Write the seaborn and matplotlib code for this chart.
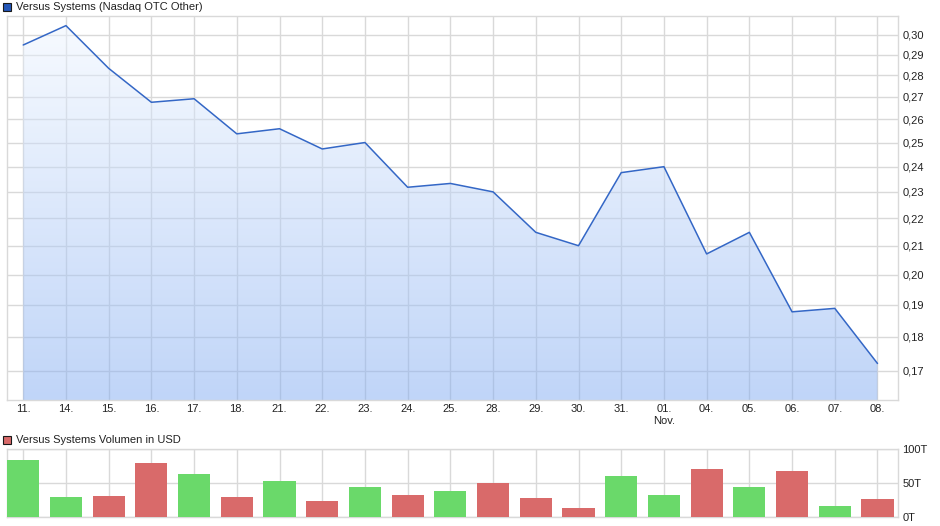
import numpy as np
import matplotlib
matplotlib.use("Agg")
import matplotlib.pyplot as plt
import seaborn as sns
from matplotlib.patches import Rectangle
from matplotlib.colors import LinearSegmentedColormap
from matplotlib.ticker import FixedLocator, FixedFormatter, NullLocator

# Kursdaten (Schlusskurse) und Volumen in Tausend USD
dates = ["11.", "14.", "15.", "16.", "17.", "18.", "21.", "22.", "23.", "24.", "25.",
         "28.", "29.", "30.", "31.", "01.\nNov.", "04.", "05.", "06.", "07.", "08."]
price = [0.2948, 0.3046, 0.2834, 0.2676, 0.2692, 0.2537, 0.2559, 0.2473, 0.2500, 0.2318, 0.2333,
         0.2300, 0.2148, 0.2100, 0.2376, 0.2400, 0.2071, 0.2148, 0.1878, 0.1889, 0.1721]
volume = [84, 29, 31, 80, 63, 29, 53, 23, 44, 32, 38,
          50, 28, 13, 60, 32, 71, 44, 68, 16, 26]
price_ticks = [0.17, 0.18, 0.19, 0.20, 0.21, 0.22, 0.23, 0.24, 0.25, 0.26, 0.27, 0.28, 0.29, 0.30]
vol_ticks = [0, 50, 100]
vol_labels = ["0T", "50T", "100T"]

# Farbe der Volumenbalken: gruen wenn Kurs gestiegen, sonst rot
direction = ["up"] + ["up" if price[i] >= price[i - 1] else "down" for i in range(1, len(price))]

sns.set_style("white")
plt.rcParams["font.family"] = ["Liberation Sans", "DejaVu Sans"]
plt.rcParams["font.size"] = 8

W, H = 940, 526
fig = plt.figure(figsize=(W / 100, H / 100), dpi=100)


def box(l, t, r, b):
    return [l / W, 1 - b / H, (r - l) / W, (b - t) / H]


ax = fig.add_axes(box(7, 16, 898, 400))
axv = fig.add_axes(box(7, 449, 898, 517))

pos = np.arange(len(dates))
ymin, ymax = 0.1618, 0.3096
xmin, xmax = -0.38, 20.48
grid_col = "#d9d9d9"

# Kurschart
ax.set_yscale("log")
sns.lineplot(x=pos, y=price, ax=ax, color="#3467c6", lw=1.1, zorder=3)
poly = ax.fill_between(pos, price, ymin, color="none", lw=0)
# halbtransparenter Verlauf, damit das Gitter durchscheint
grad = np.linspace(0, 1, 256).reshape(-1, 1)
cmap = LinearSegmentedColormap.from_list("fill", ["#f1f7ff", "#81abf1"])
im = ax.imshow(grad, cmap=cmap, extent=[0, 1, 0, 1], transform=ax.transAxes,
               aspect="auto", origin="upper", zorder=1, alpha=0.5)
im.set_clip_path(poly.get_paths()[0], transform=ax.transData)
ax.set_xlim(xmin, xmax)
ax.set_ylim(ymin, ymax)

ax.yaxis.tick_right()
ax.yaxis.set_major_locator(FixedLocator(price_ticks))
ax.yaxis.set_major_formatter(FixedFormatter([f"{t:.2f}".replace(".", ",") for t in price_ticks]))
ax.yaxis.set_minor_locator(NullLocator())
ax.set_xticks(pos)
ax.set_xticklabels(dates)
ax.tick_params(length=0, pad=3, labelsize=8, colors="#222222")
ax.set_axisbelow(True)
ax.grid(True, color=grid_col, lw=1)
for s in ax.spines.values():
    s.set_color(grid_col)
    s.set_linewidth(1)

# Volumenchart
sns.barplot(x=pos, y=volume, hue=direction, palette={"up": "#6ad96a", "down": "#d96a6a"},
            dodge=False, width=0.75, saturation=1, linewidth=0, legend=False, ax=axv, zorder=3)
axv.set_xlim(xmin, xmax)
axv.set_ylim(0, 100)
axv.yaxis.tick_right()
axv.set_yticks(vol_ticks)
axv.set_yticklabels(vol_labels)
axv.set_xticks(pos)
axv.set_xticklabels([])
axv.set_xlabel("")
axv.set_ylabel("")
axv.tick_params(length=0, pad=3, labelsize=8, colors="#222222")
axv.set_axisbelow(True)
axv.grid(True, color=grid_col, lw=1)
for s in axv.spines.values():
    s.set_color(grid_col)
    s.set_linewidth(1)

# Legenden-Titel
fig.add_artist(Rectangle((3 / W, 1 - 11 / H), 8 / W, 8 / H, transform=fig.transFigure,
                         facecolor="#2356b8", edgecolor="#1a1a1a", lw=0.8))
fig.text(16 / W, 1 - 7 / H, "Versus Systems (Nasdaq OTC Other)", va="center", ha="left",
         fontsize=8, color="#222222")
fig.add_artist(Rectangle((3 / W, 1 - 444 / H), 8 / W, 8 / H, transform=fig.transFigure,
                         facecolor="#d96a6a", edgecolor="#1a1a1a", lw=0.8))
fig.text(16 / W, 1 - 440 / H, "Versus Systems Volumen in USD", va="center", ha="left",
         fontsize=8, color="#222222")

fig.savefig("out.png", dpi=100)
